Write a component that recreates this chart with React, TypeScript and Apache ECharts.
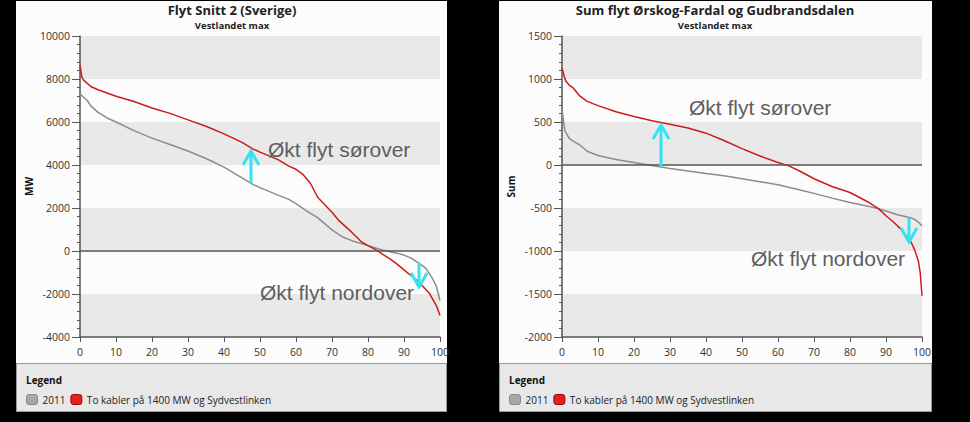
import React, { useEffect, useRef } from "react";
import * as echarts from "echarts";

// ---- Data ----
const xTicks = [0, 10, 20, 30, 40, 50, 60, 70, 80, 90, 100];

const seriesNames = ["2011", "To kabler på 1400 MW og Sydvestlinken"];

// Left chart: Flyt Snitt 2 (Sverige)
const leftRedX = [0, 0.5, 1, 3, 5, 10, 15, 20, 25, 30, 35, 40, 45, 48, 50, 55, 58, 60, 62, 64, 66, 68, 70, 72, 75, 78, 80, 82.5, 84, 86, 88, 90, 92, 94, 95, 96, 97, 98, 99, 100];
const leftRedY = [8650, 8100, 7950, 7650, 7500, 7200, 6950, 6650, 6400, 6100, 5800, 5450, 5050, 4750, 4600, 4250, 3950, 3800, 3550, 3150, 2500, 2150, 1800, 1400, 950, 450, 250, 30, -150, -350, -600, -880, -1150, -1420, -1600, -1780, -1950, -2250, -2550, -3000];
const leftGrayX = [0, 1, 2, 3, 5, 8, 10, 15, 20, 25, 30, 35, 40, 45, 48, 50, 55, 58, 60, 63, 66, 70, 73, 76, 80, 84, 88, 90, 92, 94, 96, 97, 98, 99, 100];
const leftGrayY = [7300, 7150, 7000, 6750, 6450, 6150, 6000, 5600, 5250, 4950, 4650, 4300, 3900, 3400, 3100, 2950, 2600, 2400, 2200, 1850, 1550, 980, 650, 450, 250, 50, -100, -190, -330, -550, -800, -1050, -1300, -1650, -2300];

// Right chart: Sum flyt Ørskog-Fardal og Gudbrandsdalen
const rightRedX = [0, 0.5, 1, 2, 3, 5, 7, 10, 15, 20, 25, 30, 35, 40, 45, 50, 55, 60, 63, 66, 70, 75, 80, 85, 88, 90, 92, 94, 96, 97, 98, 99, 99.5, 100];
const rightRedY = [1130, 1050, 980, 930, 900, 800, 740, 690, 620, 565, 515, 475, 430, 370, 285, 190, 105, 30, -10, -70, -160, -250, -320, -430, -510, -590, -660, -740, -840, -900, -990, -1120, -1250, -1520];
const rightGrayX = [0, 0.3, 0.8, 2, 3, 5, 7, 10, 15, 20, 25, 30, 35, 40, 45, 50, 55, 60, 65, 70, 75, 80, 85, 88, 90, 93, 95, 97, 98, 99, 100];
const rightGrayY = [640, 550, 400, 310, 280, 230, 160, 110, 65, 30, -5, -40, -70, -100, -125, -160, -195, -230, -280, -330, -385, -435, -480, -510, -535, -575, -595, -615, -635, -665, -710];

const leftTitle = "Flyt Snitt 2 (Sverige)";
const rightTitle = "Sum flyt Ørskog-Fardal og Gudbrandsdalen";
const subTitle = "Vestlandet max";
const annUp = "Økt flyt sørover";
const annDown = "Økt flyt nordover";

const FONT = "'Open Sans', 'Noto Sans', sans-serif";
const RED = "#cc1b1b";
const GRAY = "#8c8c8c";
const CYAN = "#36e2f0";

const pairs = (xs: number[], ys: number[]) => xs.map((x, i) => [x, ys[i]]);

function arrow(x: number, yTail: number, yTip: number) {
  const dir = yTip < yTail ? 1 : -1;
  const style = { stroke: CYAN, lineWidth: 3, fill: "none" };
  return [
    { type: "line", z: 100, shape: { x1: x, y1: yTail, x2: x, y2: yTip }, style },
    {
      type: "polyline",
      z: 100,
      shape: { points: [[x - 8, yTip + dir * 14], [x, yTip], [x + 8, yTip + dir * 14]] },
      style,
    },
  ];
}

function annText(x: number, y: number, text: string) {
  return {
    type: "text",
    z: 100,
    x,
    y,
    style: {
      text,
      fill: "#5e5e5e",
      font: "21px 'Liberation Sans', Arial, sans-serif",
      textVerticalAlign: "middle",
    },
  };
}

export default function App() {
  const ref = useRef<HTMLDivElement>(null);

  useEffect(() => {
    if (!ref.current) return;
    const chart = echarts.init(ref.current, null, { renderer: "svg" });

    const panels = [
      { x: 16, w: 431, cx: 232, gridLeft: 80, min: -4000, max: 10000, interval: 2000, name: "MW", title: leftTitle },
      { x: 499, w: 433, cx: 715, gridLeft: 562, min: -2000, max: 1500, interval: 500, name: "Sum", title: rightTitle },
    ];

    const graphic: any[] = [];
    panels.forEach((p) => {
      graphic.push({
        type: "rect",
        z: -10,
        shape: { x: p.x, y: 1, width: p.w, height: 362 },
        style: { fill: "#fcfcfc" },
        silent: true,
      });
      graphic.push({
        type: "rect",
        z: -9,
        shape: { x: p.x + 0.5, y: 363.5, width: p.w - 1, height: 48 },
        style: { fill: "#e8e8e8", stroke: "#9a9a9a", lineWidth: 1 },
        silent: true,
      });
      graphic.push({
        type: "text",
        z: 10,
        x: p.x + 10,
        y: 380,
        style: { text: "Legend", fill: "#111", font: `bold 10px ${FONT}`, textVerticalAlign: "middle" },
      });
    });

    graphic.push(annText(268, 149, annUp));
    graphic.push(annText(260, 292, annDown));
    graphic.push(annText(689, 107, annUp));
    graphic.push(annText(751, 258, annDown));
    graphic.push(...arrow(251, 183, 151));
    graphic.push(...arrow(419, 263, 287));
    graphic.push(...arrow(661, 167, 125));
    graphic.push(...arrow(909, 218, 242));

    const axisColor = "#555";
    const option: any = {
      animation: false,
      backgroundColor: "#000",
      textStyle: { fontFamily: FONT },
      title: panels.map((p) => ({
        text: p.title,
        subtext: subTitle,
        left: p.cx,
        textAlign: "center",
        top: 3,
        padding: 0,
        itemGap: 3,
        textStyle: { fontSize: 13, lineHeight: 14, fontWeight: "bold", color: "#222", fontFamily: FONT },
        subtextStyle: { fontSize: 9.5, lineHeight: 10, fontWeight: "bold", color: "#222", fontFamily: FONT },
      })),
      legend: panels.map((p) => ({
        data: seriesNames.map((n, i) => ({
          name: n,
          icon: "roundRect",
          itemStyle: { color: i === 0 ? "#a8a8a8" : "#dd2424", borderColor: i === 0 ? "#888" : "#a00", borderWidth: 1 },
        })),
        left: p.x + 10,
        top: 394,
        itemWidth: 11,
        itemHeight: 10,
        itemGap: 5,
        padding: 0,
        textStyle: { fontSize: 10, color: "#222", fontFamily: FONT },
        selectedMode: false,
      })),
      grid: panels.map((p) => ({ left: p.gridLeft, top: 36, width: 360, height: 301 })),
      xAxis: panels.map((_, gi) => ({
        type: "value",
        gridIndex: gi,
        min: xTicks[0],
        max: xTicks[xTicks.length - 1],
        interval: 10,
        axisLine: { show: true, onZero: false, lineStyle: { color: axisColor, width: 1.5 } },
        axisTick: { show: true, length: 5, lineStyle: { color: axisColor } },
        axisLabel: { fontSize: 10.5, color: "#333", margin: 9, fontFamily: FONT },
        splitLine: { show: false },
      })),
      yAxis: panels.map((p, gi) => ({
        type: "value",
        gridIndex: gi,
        min: p.min,
        max: p.max,
        interval: p.interval,
        name: p.name,
        nameLocation: "middle",
        nameRotate: 90,
        nameGap: 46,
        nameTextStyle: { fontSize: 10, fontWeight: "bold", color: "#111", fontFamily: FONT },
        axisLine: { show: true, lineStyle: { color: axisColor, width: 1.5 } },
        axisTick: { show: true, length: 8, lineStyle: { color: axisColor } },
        minorTick: { show: true, splitNumber: 5, length: 3, lineStyle: { color: axisColor } },
        axisLabel: {
          fontSize: 10.5,
          color: "#333",
          margin: 10,
          fontFamily: FONT,
          formatter: (v: number) => String(v),
        },
        splitLine: { show: false },
        splitArea: { show: true, areaStyle: { color: ["#e9e9e9", "#fcfcfc"] } },
      })),
      series: [
        [leftGrayX, leftGrayY, leftRedX, leftRedY],
        [rightGrayX, rightGrayY, rightRedX, rightRedY],
      ].flatMap((d, gi) => [
        {
          name: seriesNames[0],
          type: "line",
          xAxisIndex: gi,
          yAxisIndex: gi,
          data: pairs(d[0], d[1]),
          showSymbol: false,
          symbol: "none",
          lineStyle: { color: GRAY, width: 1.5 },
          itemStyle: { color: GRAY },
          z: 3,
          markLine: {
            silent: true,
            symbol: ["none", "none"],
            label: { show: false },
            lineStyle: { color: "#555", width: 1.5, type: "solid" },
            data: [{ yAxis: 0 }],
          },
        },
        {
          name: seriesNames[1],
          type: "line",
          xAxisIndex: gi,
          yAxisIndex: gi,
          data: pairs(d[2], d[3]),
          showSymbol: false,
          symbol: "none",
          lineStyle: { color: RED, width: 1.5 },
          itemStyle: { color: RED },
          z: 4,
        },
      ]),
      graphic,
    };

    chart.setOption(option);
    return () => chart.dispose();
  }, []);

  return <div ref={ref} style={{ position: "fixed", left: 0, top: 0, width: 970, height: 422 }} />;
}
